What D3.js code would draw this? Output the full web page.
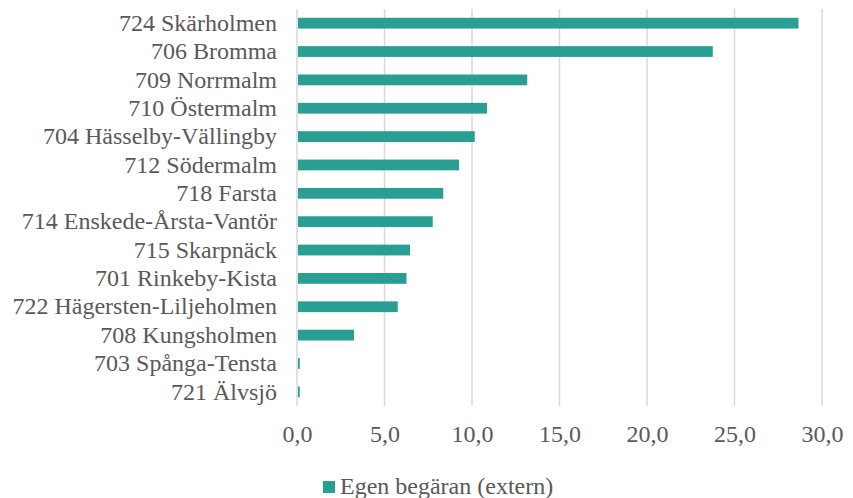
<!DOCTYPE html>
<html><head><meta charset="utf-8">
<script src="https://cdn.jsdelivr.net/npm/d3@7"></script>
<style>body{margin:0;background:#fff}svg{display:block}</style>
</head><body>
<script>
const categories = ["724 Skärholmen","706 Bromma","709 Norrmalm","710 Östermalm","704 Hässelby-Vällingby","712 Södermalm","718 Farsta","714 Enskede-Årsta-Vantör","715 Skarpnäck","701 Rinkeby-Kista","722 Hägersten-Liljeholmen","708 Kungsholmen","703 Spånga-Tensta","721 Älvsjö"];
const values = [28.6,23.7,13.1,10.8,10.1,9.2,8.3,7.7,6.4,6.2,5.7,3.2,0.1,0.1];
const xTicks = [0,5,10,15,20,25,30];
const seriesName = "Egen begäran (extern)";

const W=853,H=498;
const m={left:297,right:31,top:9,bottom:92};
const svg=d3.select("body").append("svg").attr("width",W).attr("height",H);
const x=d3.scaleLinear().domain([0,30]).range([m.left,W-m.right]);
const y=d3.scaleBand().domain(categories).range([m.top,H-m.bottom]).paddingInner(0.62).paddingOuter(0.31);
const font="'Liberation Serif','Times New Roman',serif";
const col="#595959";
const fs=24;

svg.append("g").selectAll("line").data(xTicks).join("line")
 .attr("x1",d=>x(d)).attr("x2",d=>x(d)).attr("y1",m.top).attr("y2",H-m.bottom)
 .attr("stroke","#d9d9d9").attr("stroke-width",1.5);

svg.append("g").selectAll("rect").data(values).join("rect")
 .attr("x",x(0)+1).attr("y",(d,i)=>y(categories[i]))
 .attr("width",d=>x(d)-x(0)).attr("height",y.bandwidth())
 .attr("fill","#299e93");

const yAxis=svg.append("g").attr("transform",`translate(${m.left-8},0)`)
 .call(d3.axisLeft(y).tickSize(0).tickPadding(12));
yAxis.select(".domain").remove();
yAxis.selectAll("text").style("font-family",font).style("font-size",fs+"px").attr("fill",col);

const xAxis=svg.append("g").attr("transform",`translate(0,${H-m.bottom})`)
 .call(d3.axisBottom(x).tickValues(xTicks).tickSize(0).tickPadding(19).tickFormat(d=>d3.format(".1f")(d).replace(".",",")));
xAxis.select(".domain").remove();
xAxis.selectAll("text").style("font-family",font).style("font-size",fs+"px").attr("fill",col);

const lg=svg.append("g").attr("transform","translate(323,481)");
lg.append("rect").attr("width",12).attr("height",12).attr("fill","#299e93");
lg.append("text").attr("x",17).attr("y",13).style("font-family",font).style("font-size",fs+"px").attr("fill",col).text(seriesName);
</script>
</body></html>
